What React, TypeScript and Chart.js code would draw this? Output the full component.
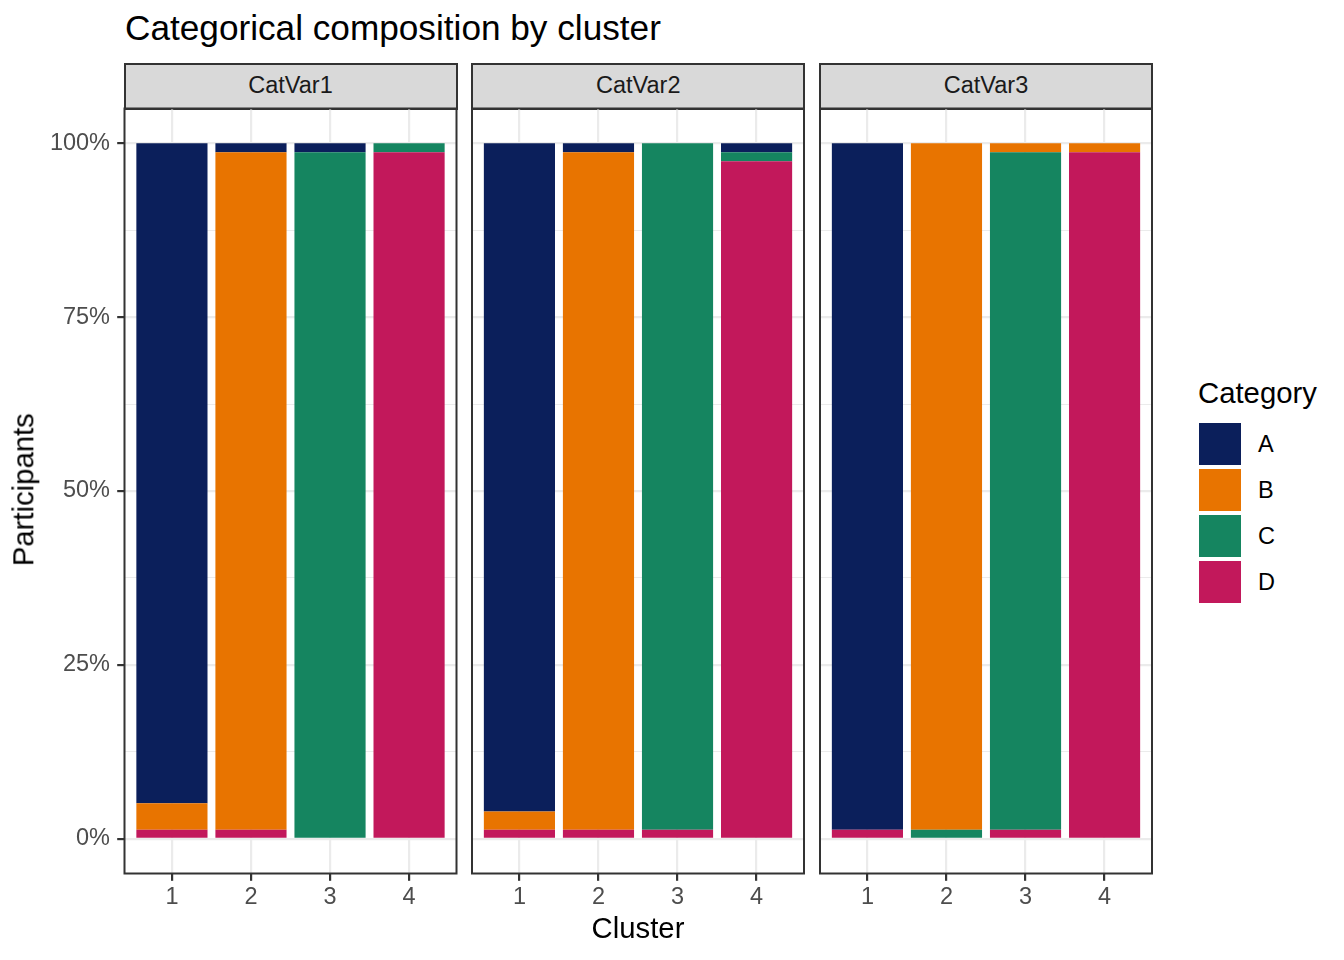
import { Chart, registerables } from "chart.js";
import { useEffect, useRef } from "react";

Chart.register(...registerables);

const FONT = "'Liberation Sans', Arial, Helvetica, sans-serif";

const variables = ["CatVar1", "CatVar2", "CatVar3"];
const clusters = ["1", "2", "3", "4"];
const categories = ["A", "B", "C", "D"];
const categoryColors = ["#0B1F5B", "#E87400", "#158560", "#C2185B"];
const yTicks = [0, 25, 50, 75, 100];
const yMinorTicks = [12.5, 37.5, 62.5, 87.5];

// % of participants in each cluster (1..4)
const catVar1A = [94.9, 1.3, 1.3, 0];
const catVar1B = [3.8, 97.4, 0, 0];
const catVar1C = [0, 0, 98.7, 1.3];
const catVar1D = [1.3, 1.3, 0, 98.7];

const catVar2A = [96.1, 1.3, 0, 1.3];
const catVar2B = [2.6, 97.4, 0, 0];
const catVar2C = [0, 0, 98.7, 1.3];
const catVar2D = [1.3, 1.3, 1.3, 97.4];

const catVar3A = [98.7, 0, 0, 0];
const catVar3B = [0, 98.7, 1.3, 1.3];
const catVar3C = [0, 1.3, 97.4, 0];
const catVar3D = [1.3, 0, 1.3, 98.7];

const panelShares = [
  [catVar1A, catVar1B, catVar1C, catVar1D],
  [catVar2A, catVar2B, catVar2C, catVar2D],
  [catVar3A, catVar3B, catVar3C, catVar3D],
];

// first level ends up on top of the stack, like ggplot
const stackOrder = [3, 2, 1, 0];

const panelLefts = [124.5, 472.25, 820];
const PANEL_W = 332;
const PANEL_TOP = 108.5;
const PANEL_BOTTOM = 873.5;
const CANVAS_TOP = 100;
const CANVAS_H = 820;

const panelBorder = {
  id: "panelBorder",
  afterDraw(chart: Chart) {
    const { ctx, chartArea: a } = chart;
    ctx.save();
    ctx.strokeStyle = "#333333";
    ctx.lineWidth = 2;
    ctx.strokeRect(a.left, a.top, a.right - a.left, a.bottom - a.top);
    ctx.restore();
  },
};

function FacetPanel({ index }: { index: number }) {
  const canvasRef = useRef<HTMLCanvasElement | null>(null);
  const first = index === 0;
  const canvasLeft = first ? 0 : panelLefts[index] - 4;
  const canvasW = first ? 460 : PANEL_W + 8;

  useEffect(() => {
    if (!canvasRef.current) return;
    const shares = panelShares[index];
    const isMajor = (v: number | undefined) => v !== undefined && yTicks.includes(v);

    const chart = new Chart(canvasRef.current, {
      type: "bar",
      data: {
        datasets: stackOrder.map((c) => ({
          label: categories[c],
          data: clusters.map((_, i) => ({ x: i + 1, y: shares[c][i] })),
          backgroundColor: categoryColors[c],
          borderWidth: 0,
          barPercentage: 0.9,
          categoryPercentage: 1,
        })),
      },
      options: {
        responsive: false,
        maintainAspectRatio: false,
        animation: false,
        layout: {
          padding: {
            left: first ? 0 : 4,
            right: first ? canvasW - 456.5 : 4,
            top: PANEL_TOP - CANVAS_TOP,
            bottom: 0,
          },
        },
        plugins: {
          legend: { display: false },
          tooltip: { enabled: false },
        },
        scales: {
          x: {
            type: "linear",
            min: 0.4,
            max: 4.6,
            offset: false,
            stacked: true,
            afterBuildTicks: (s: any) => {
              s.ticks = clusters.map((_, i) => ({ value: i + 1 }));
            },
            afterFit: (s: any) => {
              s.height = CANVAS_TOP + CANVAS_H - PANEL_BOTTOM;
              s.paddingLeft = 0;
              s.paddingRight = 0;
            },
            ticks: {
              callback: (v: any) => clusters[Number(v) - 1] ?? "",
              font: { family: FONT, size: 23.5, lineHeight: 1.2 },
              color: "#4D4D4D",
              padding: 2.5,
              autoSkip: false,
              maxRotation: 0,
            },
            grid: {
              offset: false,
              color: "#EBEBEB",
              lineWidth: 2.2,
              tickLength: 7.3,
              tickColor: "#333333",
              tickWidth: 2.2,
            },
            border: { display: false },
          },
          y: {
            type: "linear",
            min: -5,
            max: 105,
            stacked: true,
            afterBuildTicks: (s: any) => {
              s.ticks = [...yTicks, ...yMinorTicks].sort((a, b) => a - b).map((v) => ({ value: v }));
            },
            afterFit: (s: any) => {
              s.width = first ? panelLefts[0] : 0;
              s.paddingTop = 0;
              s.paddingBottom = 0;
            },
            ticks: {
              display: first,
              callback: (v: any) => (yTicks.includes(Number(v)) ? `${v}%` : ""),
              font: { family: FONT, size: 23.5 },
              color: "#4D4D4D",
              padding: 7.2,
              autoSkip: false,
            },
            grid: {
              color: "#EBEBEB",
              lineWidth: (ctx: any) => (isMajor(ctx.tick?.value) ? 2.2 : 1.1),
              drawTicks: first,
              tickLength: 7.3,
              tickColor: (ctx: any) => (isMajor(ctx.tick?.value) ? "#333333" : "rgba(0,0,0,0)"),
              tickWidth: 2.2,
            },
            border: { display: false },
          },
        },
      },
      plugins: [panelBorder],
    } as any);

    return () => chart.destroy();
  }, [index, first, canvasW]);

  return (
    <>
      <div
        style={{
          position: "absolute",
          left: panelLefts[index] - 1,
          top: 62.5,
          width: PANEL_W + 2,
          height: 47,
          boxSizing: "border-box",
          border: "2px solid #333333",
          background: "#D9D9D9",
          display: "flex",
          alignItems: "center",
          justifyContent: "center",
          fontSize: 23.5,
          lineHeight: 1,
          color: "#1A1A1A",
        }}
      >
        {variables[index]}
      </div>
      <canvas
        ref={canvasRef}
        width={canvasW}
        height={CANVAS_H}
        style={{ position: "absolute", left: canvasLeft, top: CANVAS_TOP, width: canvasW, height: CANVAS_H }}
      />
    </>
  );
}

// top of a line box (line-height 1) whose baseline is at y
const topFor = (baseline: number, size: number) => baseline - 0.8465 * size;

export default function App() {
  return (
    <div
      style={{
        position: "absolute",
        left: 0,
        top: 0,
        width: 1344,
        height: 960,
        background: "#FFFFFF",
        fontFamily: FONT,
        overflow: "hidden",
      }}
    >
      <div
        style={{
          position: "absolute",
          left: 125,
          top: topFor(39.3, 35.2),
          fontSize: 35.2,
          lineHeight: 1,
          color: "#000000",
          whiteSpace: "nowrap",
        }}
      >
        Categorical composition by cluster
      </div>

      {variables.map((_, i) => (
        <FacetPanel key={i} index={i} />
      ))}

      <div
        style={{
          position: "absolute",
          left: 338,
          width: 600,
          top: topFor(938, 29.3),
          fontSize: 29.3,
          lineHeight: 1,
          textAlign: "center",
          color: "#000000",
        }}
      >
        Cluster
      </div>

      <div
        style={{
          position: "absolute",
          left: 23.35 - 150,
          top: 490 - 29.3 / 2,
          width: 300,
          height: 29.3,
          fontSize: 29.3,
          lineHeight: 1,
          textAlign: "center",
          color: "#000000",
          transform: "rotate(-90deg)",
        }}
      >
        Participants
      </div>

      <div
        style={{
          position: "absolute",
          left: 1198,
          top: topFor(403, 29.3),
          fontSize: 29.3,
          lineHeight: 1,
          color: "#000000",
          whiteSpace: "nowrap",
        }}
      >
        Category
      </div>
      {categories.map((c, i) => (
        <div key={c}>
          <div
            style={{
              position: "absolute",
              left: 1199,
              top: 423 + 46 * i,
              width: 42,
              height: 42,
              background: categoryColors[i],
            }}
          />
          <div
            style={{
              position: "absolute",
              left: 1258,
              top: topFor(444 + 46 * i + 8.4, 23.5),
              fontSize: 23.5,
              lineHeight: 1,
              color: "#000000",
            }}
          >
            {c}
          </div>
        </div>
      ))}
    </div>
  );
}
